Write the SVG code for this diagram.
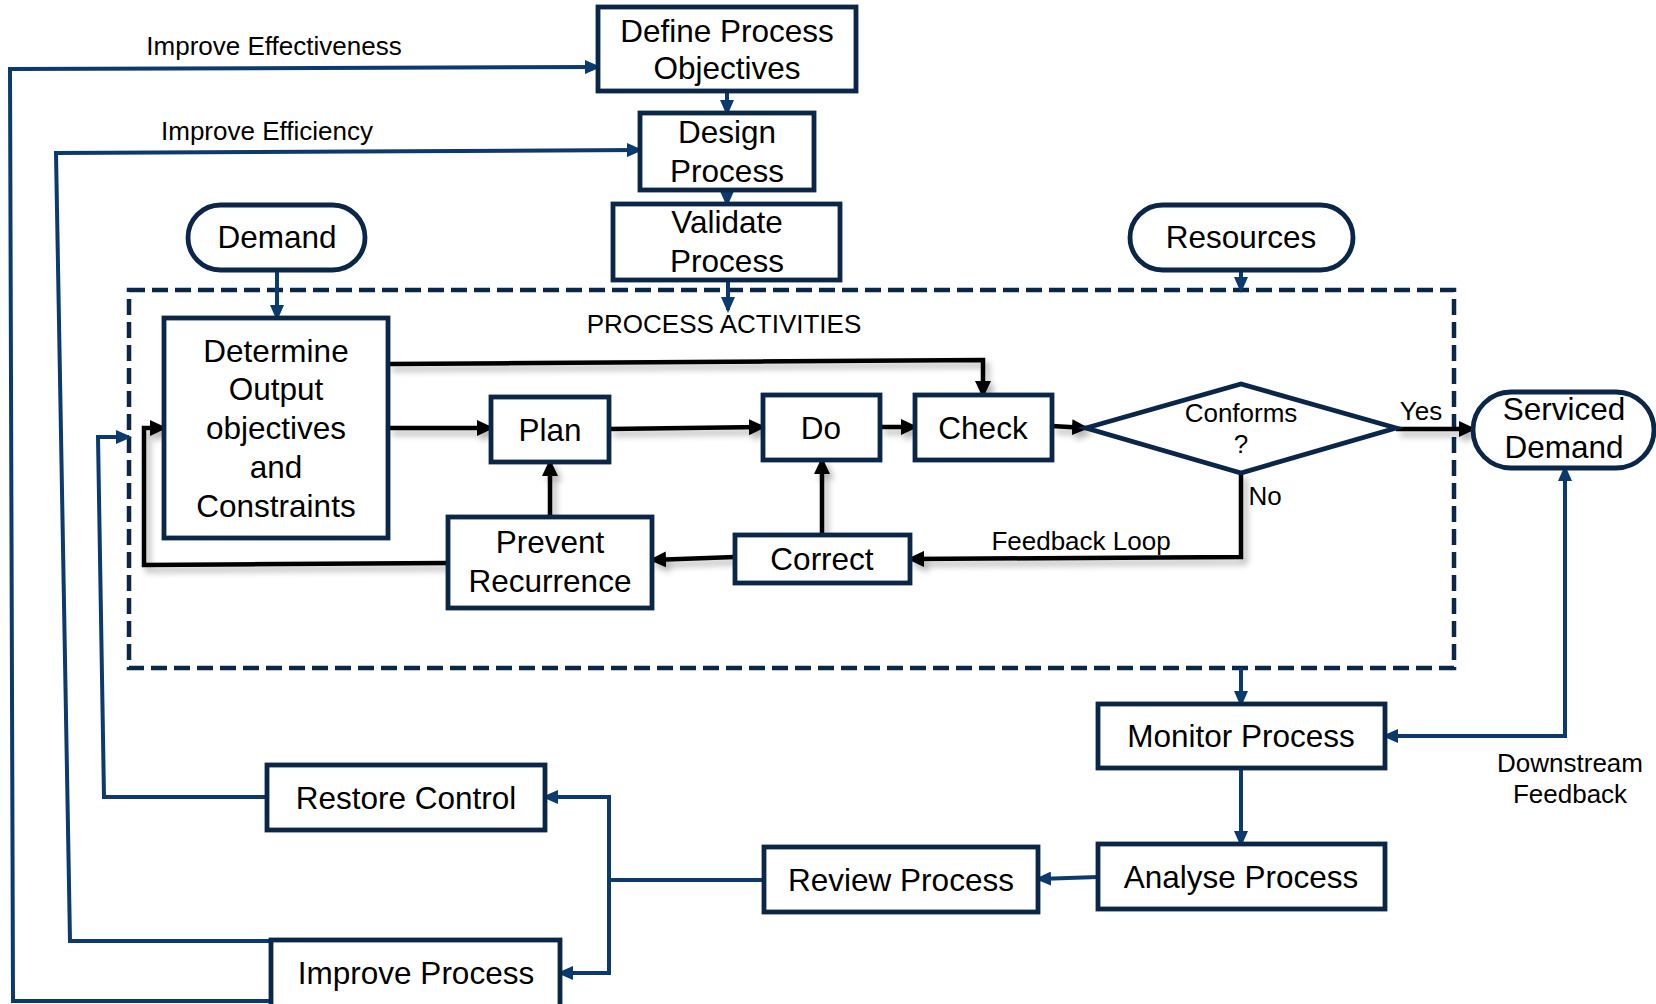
<svg xmlns="http://www.w3.org/2000/svg" width="1656" height="1004" viewBox="0 0 1656 1004">
<style>
.box{fill:#fff;stroke:#0a2649;stroke-width:4.8}
.dash{fill:none;stroke:#0a2649;stroke-width:4.5;stroke-dasharray:16 7}
.bl{fill:none;stroke:#0b3a6e;stroke-width:4;marker-end:url(#ab)}
.bk{fill:none;stroke:#000;stroke-width:4.5;marker-end:url(#ak)}
text{font-family:"Liberation Sans",Arial,sans-serif;fill:#000;text-anchor:middle}
.t{font-size:31.5px}
.s{font-size:26px}
</style>
<defs>
<marker id="ab" markerUnits="userSpaceOnUse" markerWidth="16" markerHeight="14" refX="13" refY="7" orient="auto-start-reverse">
<path d="M0,0 L16,7 L0,14 z" fill="#0b3a6e"/>
</marker>
<marker id="ak" markerUnits="userSpaceOnUse" markerWidth="17" markerHeight="16" refX="14" refY="8" orient="auto">
<path d="M0,0 L17,8 L0,16 z" fill="#000"/>
</marker>
<filter id="sh" filterUnits="userSpaceOnUse" x="0" y="0" width="1656" height="1004">
<feDropShadow dx="4" dy="5" stdDeviation="3" flood-color="#000" flood-opacity="0.3"/>
</filter>
</defs>
<rect width="1656" height="1004" fill="#fff"/>

<g id="process-activities">
<rect class="dash" x="129" y="290" width="1325" height="378"/>
<text class="s" x="724" y="333">PROCESS ACTIVITIES</text>
</g>

<g id="connectors">
<g id="blue-connectors">
<path class="bl" d="M272,1001 L13,1001 L10,69 L598,67"/>
<path class="bl" d="M272,941 L70,941 L56,153 L640,150"/>
<path class="bl" d="M267,797 L104,797 L98,437 L129,437"/>
<path class="bl" d="M764,880 L609,880 L609,797 L545,797"/>
<path class="bl" d="M609,880 L609,973 L560,973"/>
<path class="bl" d="M1098,877 L1038,879"/>
<path class="bl" d="M1241,768 L1241,844"/>
<path class="bl" d="M1241,668 L1241,704"/>
<path class="bl" d="M1565,468 L1565,736 L1385,736" style="marker-start:url(#ab)"/>
<path class="bl" d="M277,270 L277,318"/>
<path class="bl" d="M1241,270 L1241,290"/>
<path class="bl" d="M727,91 L727,113"/>
<path class="bl" d="M727,190 L727,204"/>
<path class="bl" d="M728,280 L728,310"/>
</g>
<g id="black-connectors" filter="url(#sh)">
<path class="bk" d="M388,428 L491,428"/>
<path class="bk" d="M388,364 L983,360 L983,395"/>
<path class="bk" d="M609,429 L763,427"/>
<path class="bk" d="M880,427 L915,427"/>
<path class="bk" d="M1052,426 L1086,428"/>
<path class="bk" d="M1396,429 L1473,429"/>
<path class="bk" d="M1241,473 L1241,557 L910,559"/>
<path class="bk" d="M822,535 L822,460"/>
<path class="bk" d="M735,557 L652,560"/>
<path class="bk" d="M550,517 L550,462"/>
<path class="bk" d="M448,563 L144,565 L144,428 L164,428"/>
</g>
<text class="s" x="274" y="55">Improve Effectiveness</text>
<text class="s" x="267" y="140">Improve Efficiency</text>
<text class="s" x="1421" y="420">Yes</text>
<text class="s" x="1265" y="505">No</text>
<text class="s" x="1081" y="550">Feedback Loop</text>
<text class="s" x="1570" y="772">Downstream</text>
<text class="s" x="1570" y="803">Feedback</text>
</g>

<g id="define">
<rect class="box" x="598" y="7" width="258" height="84"/>
<text class="t" x="727" y="42">Define Process</text>
<text class="t" x="727" y="79">Objectives</text>
</g>
<g id="design">
<rect class="box" x="640" y="113" width="174" height="77"/>
<text class="t" x="727" y="143">Design</text>
<text class="t" x="727" y="182">Process</text>
</g>
<g id="validate">
<rect class="box" x="613" y="204" width="227" height="76"/>
<text class="t" x="727" y="233">Validate</text>
<text class="t" x="727" y="272">Process</text>
</g>
<g id="demand">
<rect class="box" x="188" y="205" width="177" height="65" rx="32.5"/>
<text class="t" x="277" y="248">Demand</text>
</g>
<g id="resources">
<rect class="box" x="1130" y="205" width="223" height="65" rx="32.5"/>
<text class="t" x="1241" y="248">Resources</text>
</g>
<g id="determine">
<rect class="box" x="164" y="318" width="224" height="220"/>
<text class="t" x="276" y="362">Determine</text>
<text class="t" x="276" y="400">Output</text>
<text class="t" x="276" y="439">objectives</text>
<text class="t" x="276" y="478">and</text>
<text class="t" x="276" y="517">Constraints</text>
</g>
<g id="plan">
<rect class="box" x="491" y="397" width="118" height="65"/>
<text class="t" x="550" y="441">Plan</text>
</g>
<g id="do">
<rect class="box" x="763" y="395" width="117" height="65"/>
<text class="t" x="821" y="439">Do</text>
</g>
<g id="check">
<rect class="box" x="915" y="395" width="137" height="65"/>
<text class="t" x="983" y="439">Check</text>
</g>
<g id="conforms">
<polygon class="box" points="1086,428 1241,384 1396,428 1241,473"/>
<text class="s" x="1241" y="422">Conforms</text>
<text class="s" x="1241" y="453">?</text>
</g>
<g id="serviced-demand">
<rect class="box" x="1473" y="392" width="181" height="76" rx="38"/>
<text class="t" x="1564" y="420">Serviced</text>
<text class="t" x="1564" y="458">Demand</text>
</g>
<g id="correct">
<rect class="box" x="735" y="535" width="175" height="48"/>
<text class="t" x="822" y="570">Correct</text>
</g>
<g id="prevent">
<rect class="box" x="448" y="517" width="204" height="91"/>
<text class="t" x="550" y="553">Prevent</text>
<text class="t" x="550" y="592">Recurrence</text>
</g>
<g id="monitor">
<rect class="box" x="1098" y="704" width="287" height="64"/>
<text class="t" x="1241" y="747">Monitor Process</text>
</g>
<g id="analyse">
<rect class="box" x="1098" y="844" width="287" height="65"/>
<text class="t" x="1241" y="888">Analyse Process</text>
</g>
<g id="review">
<rect class="box" x="764" y="847" width="274" height="65"/>
<text class="t" x="901" y="891">Review Process</text>
</g>
<g id="restore">
<rect class="box" x="267" y="765" width="278" height="65"/>
<text class="t" x="406" y="809">Restore Control</text>
</g>
<g id="improve">
<rect class="box" x="271" y="940" width="289" height="80"/>
<text class="t" x="416" y="984">Improve Process</text>
</g>
</svg>
